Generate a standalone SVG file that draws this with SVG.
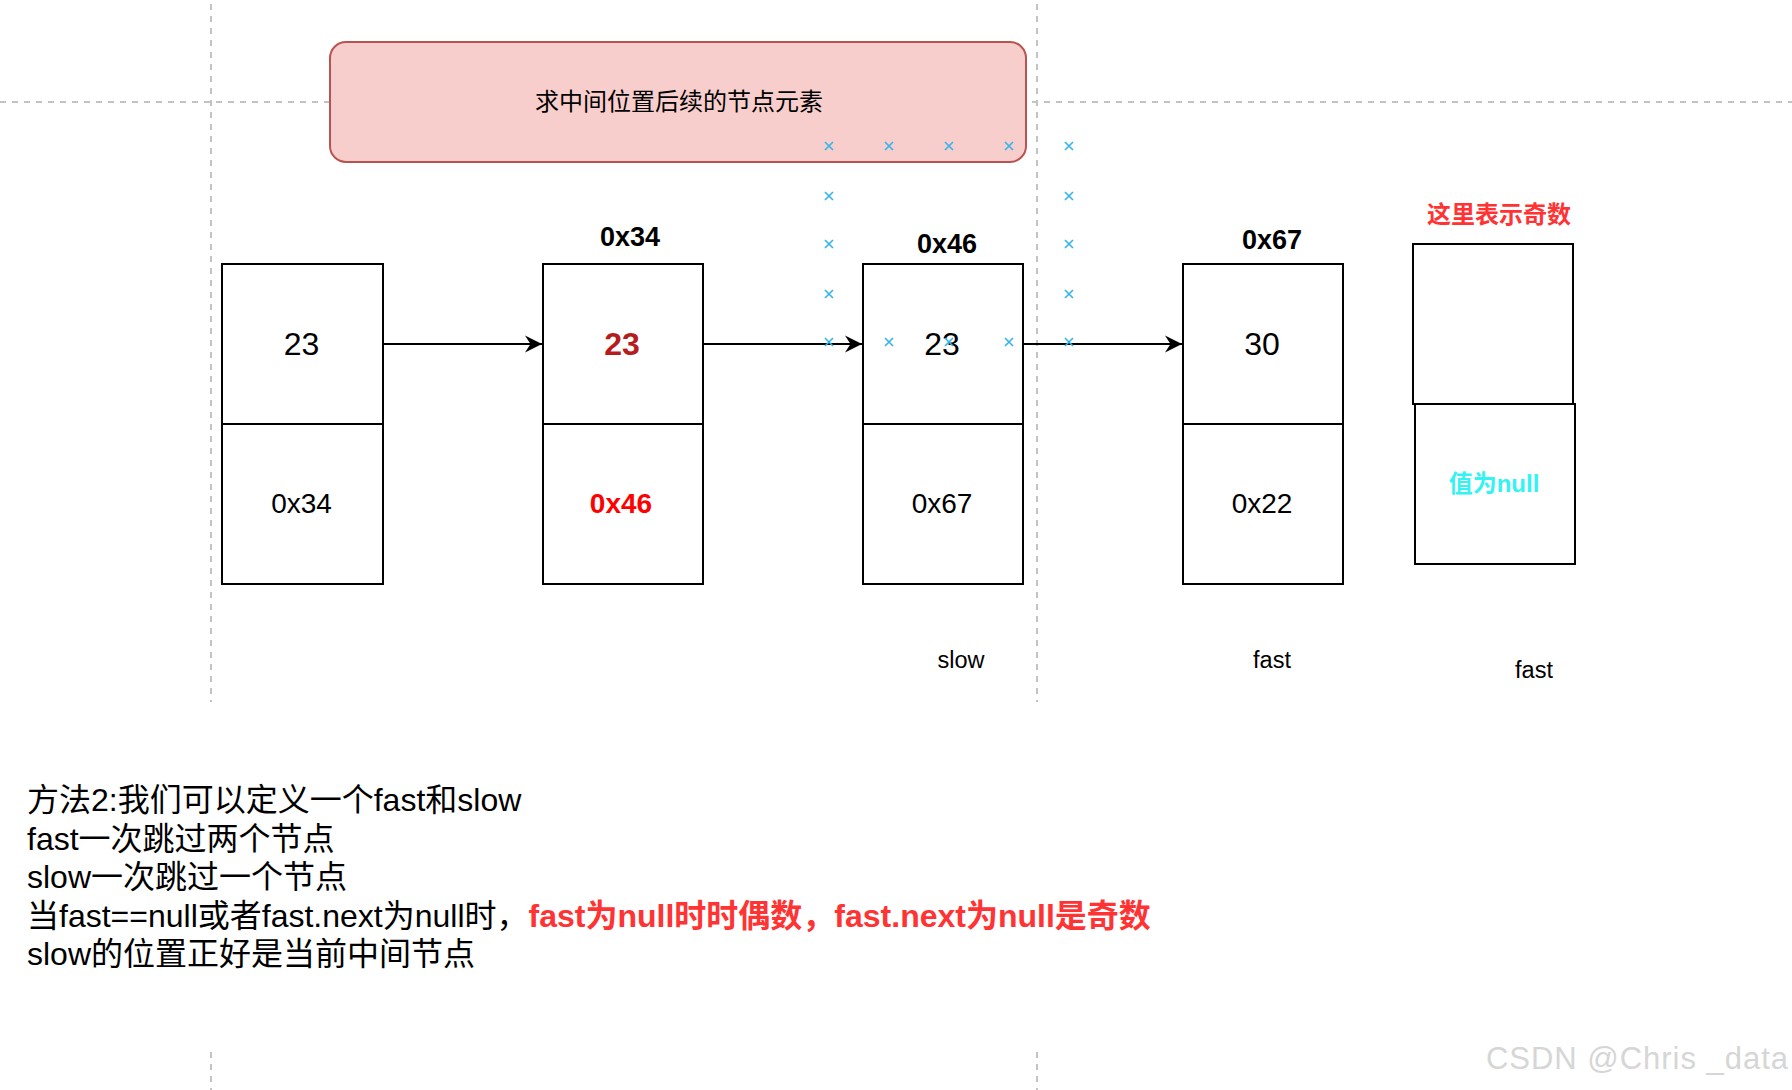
<svg xmlns="http://www.w3.org/2000/svg" width="1792" height="1090" viewBox="0 0 1792 1090">
  <style>
    .guide { stroke: #c3c3c3; stroke-width: 2; stroke-dasharray: 6 6; fill: none; }
    .cell { fill: #ffffff; stroke: #000000; stroke-width: 2; }
    .t { font-family: "Liberation Sans", Arial, "Noto Sans CJK SC", sans-serif; text-anchor: middle; fill: #000000; }
    .val { font-size: 32px; }
    .ptr { font-size: 28px; }
    .addr { font-size: 27px; font-weight: bold; }
    .lbl { font-size: 23.5px; }
    .cjk { font-family: "Liberation Sans", Arial, "Noto Sans CJK SC", sans-serif; }
    .edge { stroke: #000000; stroke-width: 2; fill: none; }
    .mark { stroke: #33b3ec; stroke-width: 1.6; fill: none; }
  </style>
  <defs>
    <marker id="arrow" markerUnits="userSpaceOnUse" markerWidth="20" markerHeight="20" viewBox="-18 -10 20 20" refX="0" refY="0" orient="auto">
      <path d="M0,0 L-17,-8.5 L-11.5,0 L-17,8.5 Z" fill="#000000"/>
    </marker>
    <path id="x" d="M-4,-4 L4,4 M-4,4 L4,-4" class="mark"/>
  </defs>

  <rect width="1792" height="1090" fill="#ffffff"/>

  <!-- guide lines -->
  <g id="guides">
    <line class="guide" x1="0" y1="102" x2="1792" y2="102"/>
    <line class="guide" x1="211" y1="4" x2="211" y2="702"/>
    <line class="guide" x1="211" y1="1052" x2="211" y2="1090"/>
    <line class="guide" x1="1037" y1="4" x2="1037" y2="702"/>
    <line class="guide" x1="1037" y1="1052" x2="1037" y2="1090"/>
  </g>

  <!-- title box -->
  <g id="title">
    <rect x="330" y="42" width="696" height="120" rx="16" ry="16" fill="#f8cecc" stroke="#b85450" stroke-width="2"/>
    <text class="t cjk" x="679" y="110" font-size="24">求中间位置后续的节点元素</text>
  </g>

  <!-- connectors -->
  <g id="connectors">
    <line class="edge" x1="383" y1="344" x2="542" y2="344" marker-end="url(#arrow)"/>
    <line class="edge" x1="703" y1="344" x2="862" y2="344" marker-end="url(#arrow)"/>
    <line class="edge" x1="1023" y1="344" x2="1182" y2="344" marker-end="url(#arrow)"/>
  </g>

  <!-- node 1 -->
  <g id="node1">
    <rect class="cell" x="222" y="264" width="161" height="160"/>
    <rect class="cell" x="222" y="424" width="161" height="160"/>
    <text class="t val" x="301.5" y="355">23</text>
    <text class="t ptr" x="301.5" y="513">0x34</text>
  </g>

  <!-- node 2 -->
  <g id="node2">
    <text class="t addr" x="630" y="246">0x34</text>
    <rect class="cell" x="543" y="264" width="160" height="160"/>
    <rect class="cell" x="543" y="424" width="160" height="160"/>
    <text class="t val" x="622" y="355" font-weight="bold" style="fill:#b71c1c">23</text>
    <text class="t ptr" x="621" y="513" font-weight="bold" style="fill:#ff0000">0x46</text>
  </g>

  <!-- node 3 -->
  <g id="node3">
    <text class="t addr" x="947" y="253">0x46</text>
    <rect class="cell" x="863" y="264" width="160" height="160"/>
    <rect class="cell" x="863" y="424" width="160" height="160"/>
    <text class="t val" x="942" y="355">23</text>
    <text class="t ptr" x="942" y="513">0x67</text>
    <text class="t lbl" x="961" y="668">slow</text>
  </g>

  <!-- node 4 -->
  <g id="node4">
    <text class="t addr" x="1272" y="249">0x67</text>
    <rect class="cell" x="1183" y="264" width="160" height="160"/>
    <rect class="cell" x="1183" y="424" width="160" height="160"/>
    <text class="t val" x="1262" y="355">30</text>
    <text class="t ptr" x="1262" y="513">0x22</text>
    <text class="t lbl" x="1272" y="668">fast</text>
  </g>

  <!-- node 5 (null) -->
  <g id="node5">
    <text class="t cjk" x="1499" y="223" font-size="24" font-weight="bold" style="fill:#ff3333">这里表示奇数</text>
    <rect class="cell" x="1413" y="244" width="160" height="160"/>
    <rect class="cell" x="1415" y="404" width="160" height="160"/>
    <text class="t cjk" x="1494" y="492" font-size="24" font-weight="bold" style="fill:#33f3f3">值为null</text>
    <text class="t lbl" x="1534" y="678">fast</text>
  </g>

  <!-- selection marks -->
  <g id="marks">
    <use href="#x" x="829" y="146"/>
    <use href="#x" x="889" y="146"/>
    <use href="#x" x="949" y="146"/>
    <use href="#x" x="1009" y="146"/>
    <use href="#x" x="1069" y="146"/>
    <use href="#x" x="829" y="196"/>
    <use href="#x" x="1069" y="196"/>
    <use href="#x" x="829" y="244"/>
    <use href="#x" x="1069" y="244"/>
    <use href="#x" x="829" y="294"/>
    <use href="#x" x="1069" y="294"/>
    <use href="#x" x="829" y="342"/>
    <use href="#x" x="889" y="342"/>
    <use href="#x" x="949" y="342"/>
    <use href="#x" x="1009" y="342"/>
    <use href="#x" x="1069" y="342"/>
  </g>

  <!-- explanation text -->
  <g id="notes" class="cjk" font-size="32" fill="#000000">
    <text x="27" y="811">方法2:我们可以定义一个fast和slow</text>
    <text x="27" y="849.6">fast一次跳过两个节点</text>
    <text x="27" y="888.2">slow一次跳过一个节点</text>
    <text x="27" y="926.8">当fast==null或者fast.next为null时，<tspan font-weight="bold" fill="#ff3333">fast为null时时偶数，fast.next为null是奇数</tspan></text>
    <text x="27" y="965.4">slow的位置正好是当前中间节点</text>
  </g>

  <!-- watermark -->
  <text x="1486" y="1069" font-family="Liberation Sans, Arial, sans-serif" font-size="31" fill="#d6d6d6" textLength="302" lengthAdjust="spacing">CSDN @Chris _data</text>
</svg>
